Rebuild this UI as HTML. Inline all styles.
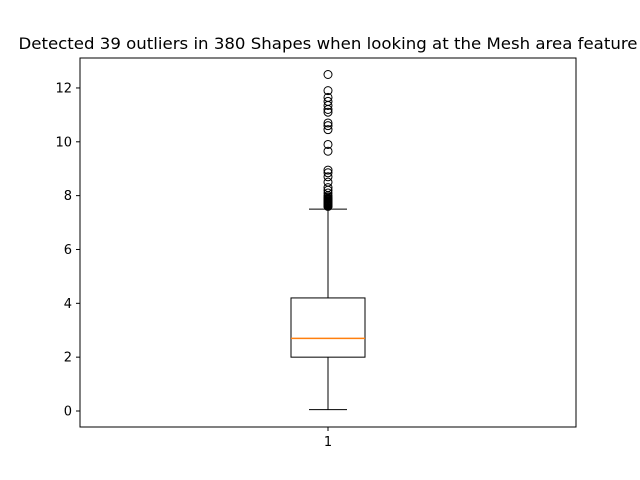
<!DOCTYPE html>
<html><head><meta charset="utf-8"><style>body{margin:0;background:#fff}svg{display:block;font-family:"DejaVu Sans","Liberation Sans",sans-serif}</style></head>
<body>
<svg id="chart" width="640" height="480" viewBox="0 0 640 480">
<text x="328" y="49" font-size="16" text-anchor="middle" textLength="619" lengthAdjust="spacingAndGlyphs">Detected 39 outliers in 380 Shapes when looking at the Mesh area feature</text>
<g id="marks"></g>
<rect x="80" y="58" width="496" height="369" fill="none" stroke="#000" stroke-width="1"/>
</svg>
<script>
const categories = ["1"];
const stats = [2.0, 2.7, 4.2]; // q1, median, q3
const whiskers = [0.05, 7.5];
const outliers = [12.5,11.9,11.65,11.5,11.35,11.2,11.1,10.7,10.6,10.45,9.9,9.65,8.95,8.85,8.7,8.5,8.3,8.2,8.1,8.0,7.95,7.9,7.87,7.85,7.82,7.8,7.78,7.76,7.74,7.72,7.7,7.69,7.68,7.66,7.65,7.64,7.62,7.61,7.6];
const yTicks = [0,2,4,6,8,10,12];
const ns="http://www.w3.org/2000/svg";
const g=document.getElementById('marks');
function y(v){return 411-(v)*26.92;}
function x(i){return 328;}
function el(t,a){const e=document.createElementNS(ns,t);for(const k in a)e.setAttribute(k,a[k]);g.appendChild(e);return e;}
yTicks.forEach(t=>{
  const l=el('line',{x1:76,x2:80,y1:y(t),y2:y(t),stroke:'#000'});
  
  
  const tx=el('text',{x:72,y:y(t)+4.5,'font-size':13,'text-anchor':'end'});
  tx.textContent=t;
  
  
});
categories.forEach((c,i)=>{
  const cx=x(i);
  const t=el('line',{x1:cx,x2:cx,y1:427,y2:431,stroke:'#000'});
  
  
  const tx=el('text',{x:cx,y:446,'font-size':13,'text-anchor':'middle'});
  tx.textContent=c;
  
  
  const w1=el('line',{x1:cx,x2:cx,y1:y(stats[0]),y2:y(whiskers[0]),stroke:'#000'});
  
  
  const w2=el('line',{x1:cx,x2:cx,y1:y(stats[2]),y2:y(whiskers[1]),stroke:'#000'});
  
  
  [whiskers[0],whiskers[1]].forEach(v=>{
    const cap=el('line',{x1:cx-19,x2:cx+19,y1:y(v),y2:y(v),stroke:'#000'});
    
    
  });
  const b=el('rect',{x:cx-37,y:y(stats[2]),width:74,height:y(stats[0])-y(stats[2]),fill:'none',stroke:'#000'});
  
  
  const m=el('line',{x1:cx-37,x2:cx+37,y1:y(stats[1]),y2:y(stats[1]),stroke:'#ff7f0e','stroke-width':1.5});
  
  
  outliers.forEach(v=>{
    const o=el('circle',{cx:cx,cy:y(v),r:4,fill:'none',stroke:'#000'});
    
    
  });
});
</script>
</body></html>
